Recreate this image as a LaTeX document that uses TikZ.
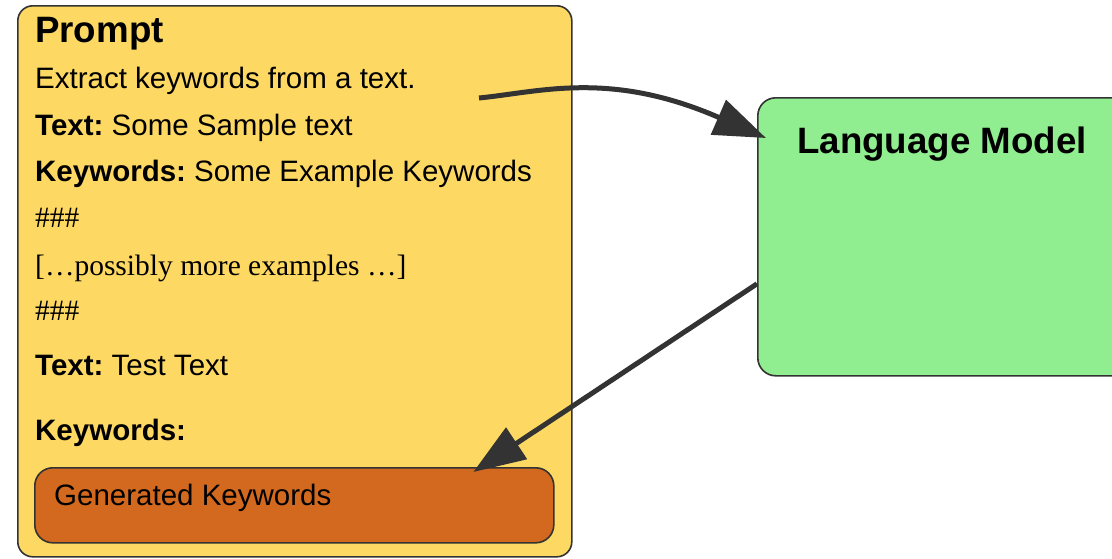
\documentclass[tikz,border=0pt]{standalone}
\usepackage{fontspec}
\setmainfont{Liberation Sans}
\newfontfamily\serifface{Liberation Serif}
\usetikzlibrary{arrows.meta}
\frenchspacing

\definecolor{promptfill}{HTML}{FDD862}
\definecolor{modelfill}{HTML}{90EE90}
\definecolor{outfill}{HTML}{D2691E}
\definecolor{edgegray}{HTML}{333333}

\begin{document}
\begin{tikzpicture}[
  x=1pt,
  y=-1pt,
  panel/.style={
    draw=edgegray,
    line width=1.6pt,
    rounded corners=15pt,
    anchor=north west,
    inner sep=0pt
  },
  title/.style={anchor=base west, inner sep=0pt, font=\fontsize{36.7}{44}\selectfont\bfseries},
  line/.style={anchor=base west, inner sep=0pt, font=\fontsize{29.5}{35}\selectfont},
  serifline/.style={line, font=\fontsize{29.5}{35}\selectfont\serifface},
  arrow/.style={-{Triangle[length=52pt, width=37pt]}, line width=5pt, draw=edgegray}
]
\clip (0,0) rectangle (1112,558);

% boxes
\node[panel, fill=promptfill, minimum width=554pt, minimum height=551pt] (prompt) at (17,5) {};
\node[panel, fill=modelfill, rounded corners=18pt, minimum width=400pt, minimum height=278pt] (lm) at (757,97) {};
\node[panel, fill=outfill, rounded corners=18pt, minimum width=519pt, minimum height=75pt] (gen) at (34,467) {};

% prompt text
\node[title] (ptitle) at (35,42) {Prompt};
\node[line] (task) at (35,88) {Extract keywords from a text.};
\node[line] (extext) at (35,135) {\textbf{Text:} Some Sample text};
\node[line] (exkw) at (35,181) {\textbf{Keywords:} Some Example Keywords};
\node[serifline] (sepa) at (35,227) {\#\#\#};
\node[serifline] (more) at (35,275) {[…possibly more examples …]};
\node[serifline] (sepb) at (35,320) {\#\#\#};
\node[line] (testtext) at (35,375) {\textbf{Text:} Test Text};
\node[line] (testkw) at (35,440) {\textbf{Keywords:}};
\node[line] (genlabel) at (54,505) {Generated Keywords};

\node[title] (lmtitle) at (797,153) {Language Model};

% connectors
\coordinate (taskend) at (479,98);
\draw[arrow] (taskend) .. controls (540,92) and (610,70) .. ([shift={(9,41)}]lm.north west);
\draw[arrow] ([shift={(0,47)}]lm.west) -- ([shift={(179,5)}]gen.north);
\end{tikzpicture}
\end{document}
